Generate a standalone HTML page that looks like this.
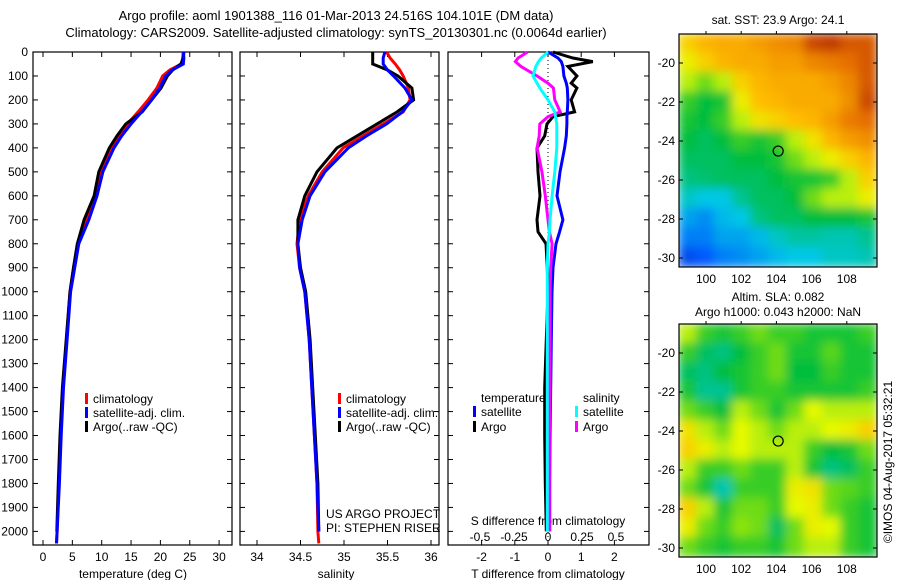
<!DOCTYPE html>
<html><head><meta charset="utf-8"><style>
body{margin:0;background:#fff;}
svg{display:block;font-family:"Liberation Sans",sans-serif;}
</style></head><body>
<svg id="c" width="900" height="580" viewBox="0 0 900 580">
<defs>
<clipPath id="m1c"><rect x="679" y="34" width="198" height="233"/></clipPath>
<clipPath id="m2c"><rect x="679" y="324" width="198" height="233"/></clipPath>
<filter id="bl" x="-5%" y="-5%" width="110%" height="110%"><feGaussianBlur stdDeviation="5"/></filter>
</defs>
<text x="336" y="20" font-size="13" text-anchor="middle">Argo profile: aoml 1901388_116 01-Mar-2013 24.516S 104.101E (DM data)</text>
<text x="336" y="37" font-size="13" text-anchor="middle">Climatology: CARS2009. Satellite-adjusted climatology: synTS_20130301.nc (0.0064d earlier)</text>
</svg>
<script>
// ---- data ----
const depthP = [0,25,50,75,100,150,200,250,300,350,400,500,600,700,800,900,1000,1200,1400,1600,1800,2000,2050];
const tempClim = [23.9,23.8,23.6,21.6,20.4,19.4,17.9,16.2,14.4,12.9,11.6,9.8,8.9,7.3,5.9,5.2,4.6,4.0,3.4,3.0,2.7,2.4,2.3];
const tempSat  = [23.9,24.0,23.9,22.0,20.9,19.9,18.5,16.8,15.0,13.4,12.1,10.2,9.2,7.8,6.1,5.4,4.7,4.1,3.5,3.1,2.8,2.4,2.3];
const tempArgo = [24.0,23.9,23.5,22.1,21.2,20.1,18.5,16.9,14.1,12.6,11.3,9.5,8.7,7.0,5.85,5.2,4.6,3.95,3.3,2.9,2.6,2.35,null];
const salClim = [35.49,35.53,35.59,35.64,35.68,35.74,35.76,35.68,35.45,35.22,34.99,34.75,34.59,34.49,34.46,34.49,34.55,34.60,34.63,34.66,34.69,34.70,34.71];
const salSat  = [35.47,35.45,35.45,35.50,35.57,35.70,35.78,35.67,35.49,35.26,35.05,34.78,34.61,34.52,34.47,34.49,34.55,34.60,34.63,34.66,34.69,34.71,null];
const salArgo = [35.33,35.33,35.33,35.50,35.62,35.78,35.80,35.61,35.38,35.15,34.92,34.69,34.55,34.47,34.47,34.50,34.56,34.61,34.64,34.67,34.70,34.71,null];
const depthD = [0,25,40,60,100,130,150,200,250,270,300,350,400,500,600,700,750,800,900,1000,1200,1400,1600,1800,2000];
const dTSat  = [0,0.3,0.4,0.45,0.48,0.55,0.58,0.6,0.58,0.57,0.57,0.55,0.5,0.36,0.27,0.45,0.35,0.24,0.15,0.12,0.1,0.08,0.06,0.05,0.05];
const dTArgo = [0.15,0.75,1.35,0.6,0.87,0.7,0.87,0.7,0.8,0.15,-0.03,-0.1,-0.33,-0.3,-0.24,-0.33,-0.3,-0.06,-0.02,0,-0.05,-0.1,-0.1,-0.08,-0.05];
const dSSat  = [0,-0.05,-0.07,-0.09,-0.11,-0.08,-0.06,0,0.05,0.055,0.065,0.065,0.065,0.05,0.03,0.015,0.01,0,-0.005,-0.005,-0.005,-0.005,-0.005,-0.005,-0.005];
const dSArgo = [-0.15,-0.22,-0.24,-0.2,-0.08,0.0,0.04,0.05,0.09,0,-0.06,-0.065,-0.08,-0.045,-0.02,0,0.01,0.03,0.02,0.015,0.015,0.015,0.01,0.01,0.01];
const depthTicks = [0,100,200,300,400,500,600,700,800,900,1000,1100,1200,1300,1400,1500,1600,1700,1800,1900,2000];
const tempTicks = [0,5,10,15,20,25,30];
const salTicks = [34,34.5,35,35.5,36];
const salTickLabels = ["34","34.5","35","35.5","36"];
const dTTicks = [-2,-1,0,1,2];
const dSTicks = [-0.5,-0.25,0,0.25,0.5];
const dSTickLabels = ["-0.5","-0.25","0","0.25","0.5"];
const latTicks = [-20,-22,-24,-26,-28,-30];
const lonTicks = [100,102,104,106,108];
const sstGrid = [
[0.65,0.7,0.72,0.72,0.75,0.78,0.8,0.9,0.92,0.88,0.88],
[0.6,0.65,0.7,0.72,0.72,0.75,0.75,0.8,0.82,0.85,0.88],
[0.55,0.5,0.55,0.65,0.7,0.72,0.72,0.72,0.75,0.8,0.88],
[0.45,0.4,0.42,0.6,0.68,0.7,0.72,0.72,0.72,0.78,0.9],
[0.42,0.4,0.45,0.55,0.62,0.65,0.68,0.7,0.75,0.82,0.85],
[0.4,0.38,0.4,0.45,0.42,0.45,0.55,0.62,0.7,0.75,0.78],
[0.38,0.38,0.38,0.4,0.4,0.42,0.5,0.55,0.6,0.65,0.7],
[0.36,0.37,0.38,0.38,0.38,0.4,0.42,0.42,0.45,0.55,0.65],
[0.32,0.3,0.3,0.35,0.38,0.38,0.4,0.5,0.55,0.55,0.6],
[0.25,0.22,0.28,0.3,0.36,0.38,0.38,0.4,0.4,0.4,0.42],
[0.2,0.2,0.25,0.25,0.28,0.32,0.34,0.34,0.33,0.33,0.35],
[0.12,0.15,0.2,0.22,0.25,0.28,0.3,0.3,0.32,0.32,0.33]];
const slaGrid = [
[0.55,0.45,0.42,0.45,0.5,0.45,0.45,0.42,0.42,0.42,0.45],
[0.45,0.38,0.36,0.4,0.45,0.5,0.42,0.42,0.48,0.42,0.42],
[0.38,0.36,0.4,0.42,0.45,0.5,0.4,0.4,0.45,0.42,0.42],
[0.42,0.35,0.35,0.42,0.45,0.45,0.42,0.42,0.42,0.42,0.45],
[0.5,0.45,0.4,0.55,0.5,0.42,0.5,0.58,0.55,0.55,0.55],
[0.62,0.55,0.5,0.58,0.55,0.5,0.55,0.55,0.58,0.6,0.65],
[0.65,0.6,0.55,0.58,0.55,0.55,0.55,0.45,0.4,0.42,0.5],
[0.55,0.45,0.45,0.5,0.45,0.45,0.55,0.42,0.36,0.38,0.45],
[0.5,0.42,0.33,0.45,0.45,0.45,0.6,0.62,0.5,0.48,0.45],
[0.65,0.55,0.42,0.5,0.5,0.45,0.58,0.6,0.5,0.45,0.42],
[0.6,0.5,0.45,0.52,0.5,0.38,0.5,0.6,0.58,0.45,0.42],
[0.5,0.45,0.42,0.45,0.45,0.42,0.5,0.55,0.55,0.45,0.42]];
const argoLon = 104.101, argoLat = -24.516;

// ---- helpers ----
const svg = document.getElementById('c');
const NS = 'http://www.w3.org/2000/svg';
function mk(tag, at, parent){const e=document.createElementNS(NS,tag);for(const k in at)e.setAttribute(k,at[k]);(parent||svg).appendChild(e);return e;}
const yD = d => 52 + d*0.2397;
const xT = t => 43 + t*5.87;
const xS = s => 257 + (s-34)*87;
const xdT = v => 548 + v*33.2;
const xdS = v => 548 + v*136;
const lonX = lo => 706 + (lo-100)*17.6;
const latY1 = la => 63 + (-20-la)*19.5;
const latY2 = la => 353 + (-20-la)*19.5;

function panel(x0,x1,name){
  const r = mk('rect',{x:x0,y:52,width:x1-x0,height:493,fill:'none',stroke:'#000','stroke-width':1.2});
  
  
  depthTicks.forEach(d=>{
    const t1 = mk('line',{x1:x0,x2:x0+5,y1:yD(d),y2:yD(d),stroke:'#000'});
    
    
    const t2 = mk('line',{x1:x1,x2:x1-5,y1:yD(d),y2:yD(d),stroke:'#000'});
    
    
  });
}
function xticks(vals,fx,labels,ly,name){
  vals.forEach((v,i)=>{
    const a = mk('line',{x1:fx(v),x2:fx(v),y1:52,y2:57,stroke:'#000'});
    
    
    const b = mk('line',{x1:fx(v),x2:fx(v),y1:545,y2:540,stroke:'#000'});
    
    
    const t = mk('text',{x:fx(v),y:ly,'font-size':12,'text-anchor':'middle'});
    t.textContent = labels ? labels[i] : String(v);
    
    
  });
}
function line(ys,xs,fy,fx,color,name,w){
  let d='';let pen=false;
  xs.forEach((v,i)=>{ if(v===null){pen=false;return;} d+=(pen?'L':'M')+fx(v).toFixed(1)+','+fy(ys[i]).toFixed(1); pen=true;});
  const p = mk('path',{d:d,fill:'none',stroke:color,'stroke-width':w||3,'stroke-linejoin':'miter'});
  
  
}
function txt(x,y,s,name,anchor,size){
  const t = mk('text',{x:x,y:y,'font-size':size||12,'text-anchor':anchor||'start'});
  t.textContent = s;
  
  
  return t;
}
function legend(x,y,color,label,name){
  const r = mk('rect',{x:x,y:y-10,width:3,height:11,fill:color});
  
  
  txt(x+8,y,label,name);
}

// ---- panel 1: temperature ----
panel(33,232,'temperature-panel');
depthTicks.forEach(d=>{ txt(28,yD(d)+4,String(d),'depth-tick-label','end'); });
xticks(tempTicks,xT,null,561,'temperature-axis');
txt(133,578,'temperature (deg C)','temperature-axis-title','middle');
line(depthP,tempClim,yD,xT,'#f00','temperature-climatology-line');
line(depthP,tempArgo,yD,xT,'#000','temperature-argo-line');
line(depthP,tempSat,yD,xT,'#00f','temperature-satellite-line');
legend(85,403,'#f00','climatology','legend-climatology');
legend(85,417,'#00f','satellite-adj. clim.','legend-satellite');
legend(85,431,'#000','Argo(..raw -QC)','legend-argo');

// ---- panel 2: salinity ----
panel(240,439,'salinity-panel');
xticks(salTicks,xS,salTickLabels,561,'salinity-axis');
txt(336,578,'salinity','salinity-axis-title','middle');
line(depthP,salClim,yD,xS,'#f00','salinity-climatology-line');
line(depthP,salArgo,yD,xS,'#000','salinity-argo-line');
line(depthP,salSat,yD,xS,'#00f','salinity-satellite-line');
legend(338,403,'#f00','climatology','legend-climatology-2');
legend(338,417,'#00f','satellite-adj. clim.','legend-satellite-2');
legend(338,431,'#000','Argo(..raw -QC)','legend-argo-2');
txt(326,518,'US ARGO PROJECT','project-credit');
txt(326,532,'PI: STEPHEN RISER','pi-credit');

// ---- panel 3: differences ----
panel(448,649,'difference-panel');
const zl = mk('line',{x1:xdT(0),x2:xdT(0),y1:52,y2:545,stroke:'#000','stroke-dasharray':'1,3'});


xticks(dTTicks,xdT,null,561,'t-difference-axis');
dSTicks.forEach((v,i)=>{ txt(xdS(v),541,dSTickLabels[i],'s-difference-tick-label','middle'); });
txt(548,525,'S difference from climatology','s-difference-axis-title','middle');
txt(548,578,'T difference from climatology','t-difference-axis-title','middle');
line(depthD,dTArgo,yD,xdT,'#000','dt-argo-line');
line(depthD,dTSat,yD,xdT,'#00f','dt-satellite-line');
line(depthD,dSArgo,yD,xdS,'#f0f','ds-argo-line');
line(depthD,dSSat,yD,xdS,'#0ff','ds-satellite-line');
txt(481,402,'temperature','legend-temperature-heading');
legend(473,416,'#00f','satellite','legend-t-satellite');
legend(473,431,'#000','Argo','legend-t-argo');
txt(583,402,'salinity','legend-salinity-heading');
legend(575,416,'#0ff','satellite','legend-s-satellite');
legend(575,431,'#f0f','Argo','legend-s-argo');

// ---- maps ----
const cmapStops = [[0,[0,30,160]],[0.15,[0,90,255]],[0.3,[0,200,230]],[0.4,[0,190,60]],[0.5,[110,220,20]],[0.58,[230,250,0]],[0.68,[255,190,0]],[0.85,[230,110,0]],[1,[150,0,0]]];
function cmap(v){
  for(let i=1;i<cmapStops.length;i++){
    if(v<=cmapStops[i][0]){const a=cmapStops[i-1],b=cmapStops[i];const f=(v-a[0])/(b[0]-a[0]);
      return 'rgb('+a[1].map((c,k)=>Math.round(c+(b[1][k]-c)*f)).join(',')+')';}
  }
  return 'rgb(150,0,0)';
}
function map(grid,y0,latY,title,clip,name){
  const g0 = mk('g',{'clip-path':'url(#'+clip+')'});
  const g = mk('g',{filter:'url(#bl)'},g0);
  
  
  const rows=grid.length, cols=grid[0].length, cw=198/cols, ch=233/rows;
  const bg = mk('rect',{x:679,y:y0,width:198,height:233,fill:cmap(grid[6][5])},g);
  
  
  grid.forEach((row,r)=>row.forEach((v,c)=>{
    const cell = mk('rect',{x:679+c*cw-1,y:y0+r*ch-1,width:cw+2,height:ch+2,fill:cmap(v)},g);
    
    
  }));
  const fr = mk('rect',{x:679,y:y0,width:198,height:233,fill:'none',stroke:'#000','stroke-width':1.2});
  
  
  latTicks.forEach(la=>{
    txt(675,latY(la)+4,String(la),name+'-lat-label','end');
    const a = mk('line',{x1:679,x2:683,y1:latY(la),y2:latY(la),stroke:'#000'});
    
    
    const b = mk('line',{x1:877,x2:873,y1:latY(la),y2:latY(la),stroke:'#000'});
    
    
  });
  lonTicks.forEach(lo=>{
    txt(lonX(lo),y0+249,String(lo),name+'-lon-label','middle');
    const a = mk('line',{x1:lonX(lo),x2:lonX(lo),y1:y0,y2:y0-3,stroke:'#000'});
    
    
  });
  const c = mk('circle',{cx:lonX(argoLon),cy:latY(argoLat),r:5,fill:'none',stroke:'#000','stroke-width':1.2});
  
  
}
map(sstGrid,34,latY1,'','m1c','sst-map');
txt(778,24,'sat. SST: 23.9 Argo: 24.1','sst-map-title','middle');
map(slaGrid,324,latY2,'','m2c','sla-map');
txt(778,301,'Altim. SLA: 0.082','sla-map-title','middle');
txt(778,316,'Argo h1000: 0.043 h2000: NaN','sla-map-subtitle','middle');
const ts = txt(0,0,'©IMOS 04-Aug-2017 05:32:21','timestamp','middle');
ts.setAttribute('transform','translate(892,462) rotate(-90)');
</script>
</body></html>
